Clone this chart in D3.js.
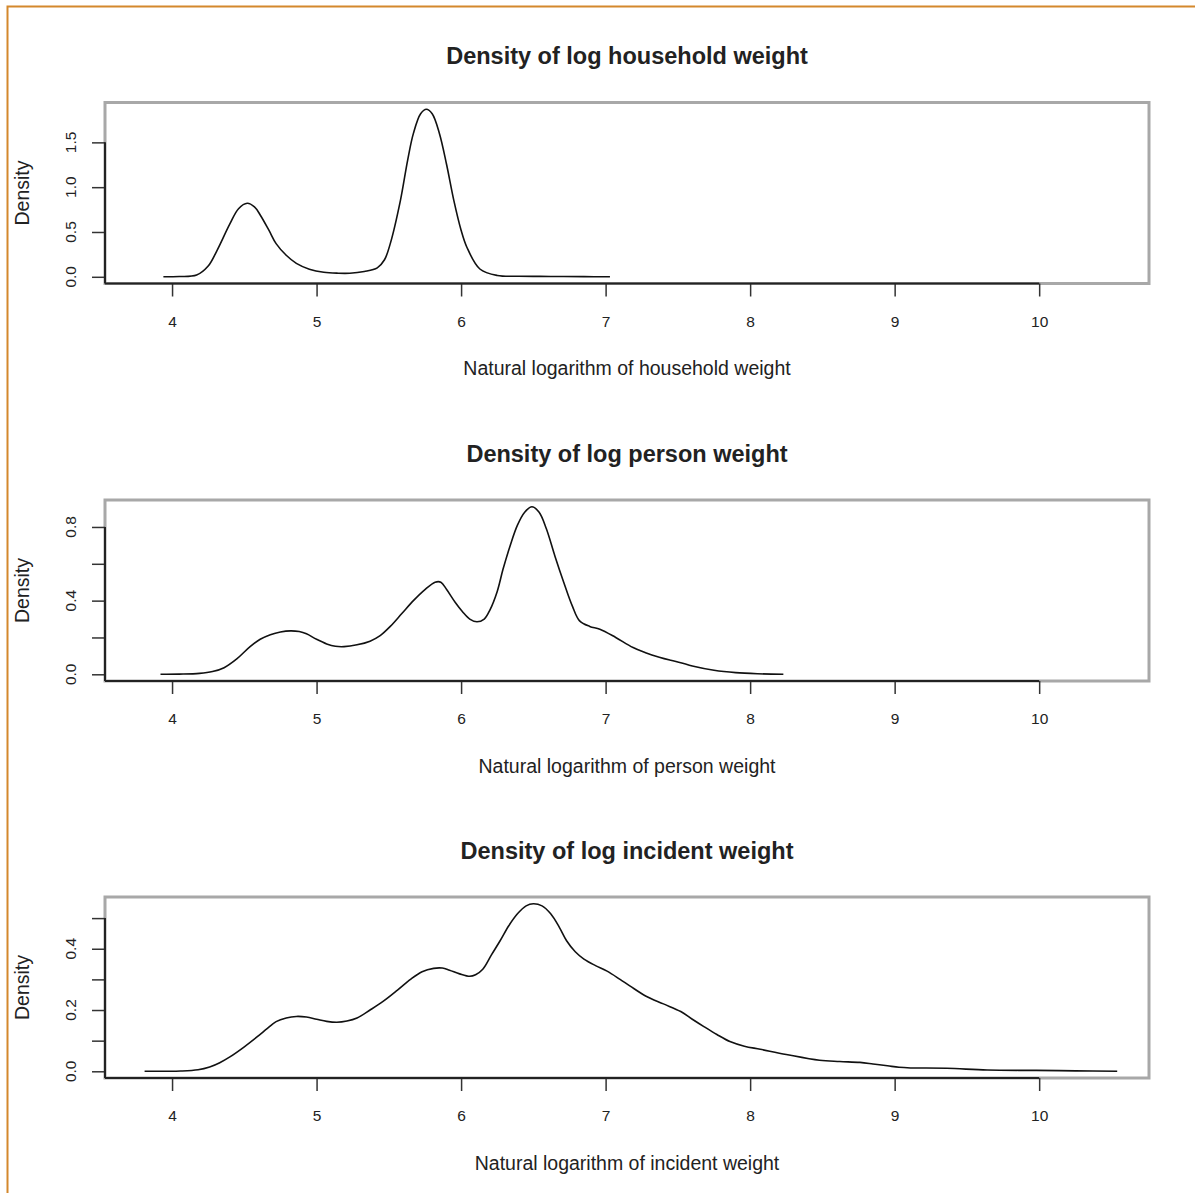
<!DOCTYPE html>
<html>
<head>
<meta charset="utf-8">
<script src="https://cdn.jsdelivr.net/npm/d3@7"></script>
<style>
  body { margin: 0; background: #fff; }
  text { font-family: "Liberation Sans", Arial, Helvetica, sans-serif; fill: #222; }
</style>
</head>
<body>
<svg id="chart" width="1195" height="1193"></svg>
<script>
// density estimates (x = log weight, y = density)
const householdX = [3.94, 4.05, 4.17, 4.25, 4.31, 4.40, 4.46, 4.52, 4.57, 4.61, 4.67, 4.72, 4.79, 4.86, 4.95, 5.05, 5.15, 5.23, 5.33, 5.42, 5.47, 5.51, 5.58, 5.63, 5.67, 5.72, 5.76, 5.80, 5.85, 5.90, 5.95, 6.00, 6.04, 6.13, 6.25, 6.40, 6.62, 6.85, 7.03];
const householdY = [0.0, 0.003, 0.02, 0.12, 0.29, 0.59, 0.76, 0.82, 0.78, 0.69, 0.52, 0.37, 0.24, 0.15, 0.085, 0.05, 0.04, 0.04, 0.06, 0.10, 0.19, 0.37, 0.85, 1.30, 1.60, 1.82, 1.87, 1.82, 1.60, 1.25, 0.85, 0.52, 0.33, 0.087, 0.015, 0.006, 0.004, 0.002, 0.0];

const personX = [3.92, 4.05, 4.19, 4.28, 4.36, 4.45, 4.54, 4.61, 4.68, 4.75, 4.82, 4.88, 4.93, 5.00, 5.07, 5.13, 5.19, 5.28, 5.37, 5.44, 5.51, 5.59, 5.67, 5.75, 5.82, 5.86, 5.90, 5.96, 6.01, 6.06, 6.11, 6.16, 6.20, 6.25, 6.29, 6.34, 6.39, 6.44, 6.49, 6.54, 6.59, 6.65, 6.71, 6.77, 6.82, 6.89, 6.96, 7.07, 7.19, 7.32, 7.45, 7.52, 7.60, 7.75, 7.90, 8.05, 8.23];
const personY = [0.0, 0.001, 0.005, 0.015, 0.036, 0.085, 0.15, 0.19, 0.215, 0.23, 0.236, 0.232, 0.22, 0.19, 0.165, 0.152, 0.15, 0.16, 0.18, 0.21, 0.26, 0.33, 0.40, 0.46, 0.50, 0.50, 0.46, 0.39, 0.34, 0.30, 0.285, 0.30, 0.35, 0.45, 0.57, 0.70, 0.81, 0.88, 0.91, 0.88, 0.79, 0.64, 0.50, 0.37, 0.29, 0.26, 0.245, 0.20, 0.145, 0.105, 0.076, 0.063, 0.045, 0.022, 0.009, 0.003, 0.0];

const incidentX = [3.81, 4.06, 4.18, 4.26, 4.33, 4.40, 4.50, 4.59, 4.66, 4.72, 4.79, 4.86, 4.93, 5.00, 5.07, 5.14, 5.21, 5.28, 5.37, 5.46, 5.56, 5.65, 5.73, 5.81, 5.87, 5.92, 5.99, 6.06, 6.10, 6.15, 6.21, 6.27, 6.33, 6.39, 6.45, 6.50, 6.56, 6.62, 6.68, 6.73, 6.79, 6.85, 6.93, 7.01, 7.10, 7.17, 7.28, 7.40, 7.52, 7.60, 7.68, 7.77, 7.86, 7.96, 8.07, 8.25, 8.48, 8.62, 8.76, 8.85, 8.95, 9.03, 9.11, 9.36, 9.64, 9.98, 10.25, 10.54];
const incidentY = [0.0, 0.001, 0.005, 0.014, 0.028, 0.047, 0.08, 0.113, 0.14, 0.162, 0.174, 0.179, 0.177, 0.17, 0.163, 0.16, 0.164, 0.174, 0.20, 0.228, 0.265, 0.30, 0.325, 0.336, 0.337, 0.33, 0.318, 0.31, 0.315, 0.333, 0.38, 0.426, 0.475, 0.514, 0.54, 0.547, 0.54, 0.514, 0.47, 0.426, 0.39, 0.366, 0.345, 0.327, 0.30, 0.278, 0.245, 0.22, 0.195, 0.17, 0.146, 0.12, 0.097, 0.082, 0.072, 0.055, 0.036, 0.032, 0.029, 0.024, 0.018, 0.013, 0.011, 0.010, 0.004, 0.003, 0.0015, 0.0];

const titles = ["Density of log household weight", "Density of log person weight", "Density of log incident weight"];
const xLabels = ["Natural logarithm of household weight", "Natural logarithm of person weight", "Natural logarithm of incident weight"];
const xTicks = [4, 5, 6, 7, 8, 9, 10];
const yTicks = [[0, 0.5, 1.0, 1.5], [0, 0.2, 0.4, 0.6, 0.8], [0, 0.1, 0.2, 0.3, 0.4, 0.5]];
const yTickLabels = [[0, 0.5, 1.0, 1.5], [0, 0.4, 0.8], [0, 0.2, 0.4]];
const xLimits = [3.536, 10.76];

const svg = d3.select("#chart");

// orange frame around the picture
svg.append("rect")
  .attr("x", 7.5).attr("y", 6.5)
  .attr("width", 1300).attr("height", 1300)
  .attr("fill", "none")
  .attr("stroke", "#d4882c")
  .attr("stroke-width", 2);

const left = 105, right = 1149, panelH = 181;
const tops = [102.5, 500, 897];
const series = [
  householdX.map((x, i) => ({ x, y: householdY[i] })),
  personX.map((x, i) => ({ x, y: personY[i] })),
  incidentX.map((x, i) => ({ x, y: incidentY[i] }))
];

const x = d3.scaleLinear().domain(xLimits).range([left, right]);
const fmt = d3.format(".1f");

series.forEach((data, k) => {
  const top = tops[k], bottom = top + panelH;
  // R style ylim: data range padded by 4%
  const [lo, hi] = d3.extent(data, d => d.y);
  const pad = (hi - lo) * 0.04;
  const y = d3.scaleLinear().domain([lo - pad, hi + pad]).range([bottom, top]);

  const g = svg.append("g");

  // box
  g.append("rect")
    .attr("x", left).attr("y", top)
    .attr("width", right - left).attr("height", panelH)
    .attr("fill", "none")
    .attr("stroke", "#a8a8a8")
    .attr("stroke-width", 3);

  // X axis
  const gx = g.append("g")
    .attr("transform", `translate(0,${bottom})`)
    .call(d3.axisBottom(x).tickValues(xTicks).tickSize(13).tickPadding(19).tickFormat(d3.format("d")));
  gx.select(".domain").remove();
  gx.selectAll("line").attr("stroke", "#333").attr("stroke-width", 1.5);
  gx.selectAll("text").attr("font-size", 15.5).attr("fill", "#222");
  gx.append("line")
    .attr("x1", left).attr("x2", x(xTicks[xTicks.length - 1]))
    .attr("stroke", "#222").attr("stroke-width", 2);

  // Y axis
  const yt = yTicks[k];
  const gy = g.append("g")
    .attr("transform", `translate(${left},0)`)
    .call(d3.axisLeft(y).tickValues(yt).tickSize(13).tickFormat(""));
  gy.select(".domain").remove();
  gy.selectAll("line").attr("stroke", "#333").attr("stroke-width", 1.5);
  gy.append("line")
    .attr("y1", bottom).attr("y2", y(yt[yt.length - 1]))
    .attr("stroke", "#222").attr("stroke-width", 2);

  g.selectAll(".ylab")
    .data(yTickLabels[k])
    .enter()
    .append("text")
    .attr("class", "ylab")
    .attr("transform", d => `translate(75.5,${y(d)}) rotate(-90)`)
    .attr("text-anchor", "middle")
    .attr("font-size", 15.5)
    .text(d => fmt(d));

  // titles
  g.append("text")
    .attr("x", (left + right) / 2).attr("y", top - 38.5)
    .attr("text-anchor", "middle")
    .attr("font-size", 23.5).attr("font-weight", "bold")
    .attr("fill", "#111")
    .text(titles[k]);

  g.append("text")
    .attr("x", (left + right) / 2).attr("y", top + 272.5)
    .attr("text-anchor", "middle")
    .attr("font-size", 19.5)
    .text(xLabels[k]);

  g.append("text")
    .attr("transform", `translate(29,${(top + bottom) / 2}) rotate(-90)`)
    .attr("text-anchor", "middle")
    .attr("font-size", 19.5)
    .text("Density");

  // density curve
  g.append("path")
    .datum(data)
    .attr("fill", "none")
    .attr("stroke", "#111")
    .attr("stroke-width", 1.6)
    .attr("d", d3.line().x(d => x(d.x)).y(d => y(d.y)).curve(d3.curveCatmullRom.alpha(0.5)));
});
</script>
</body>
</html>
